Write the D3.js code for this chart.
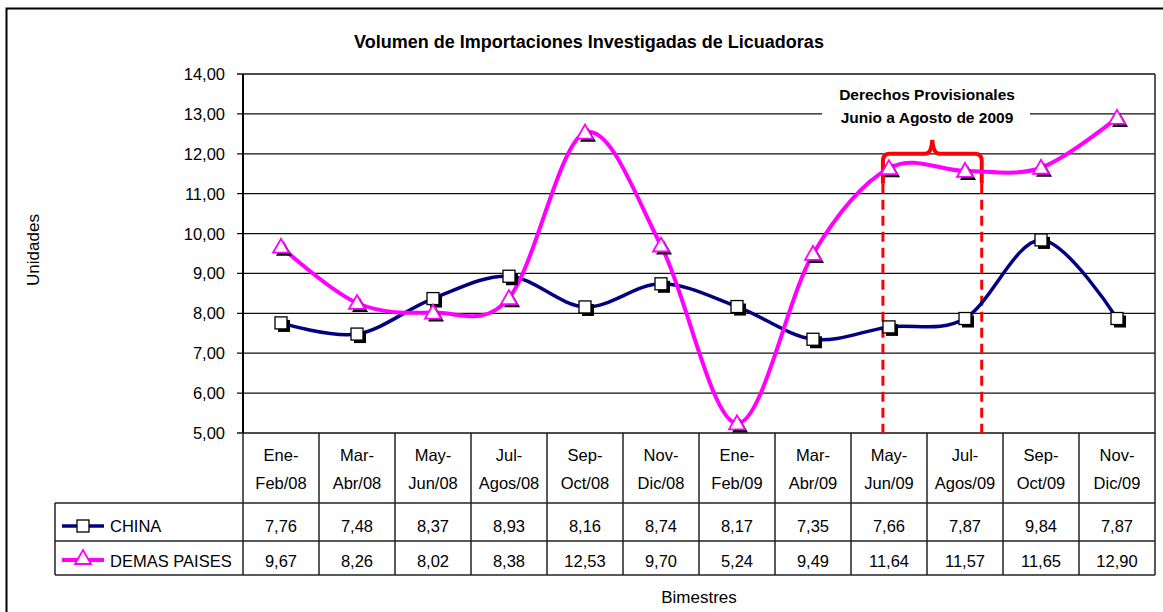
<!DOCTYPE html>
<html>
<head>
<meta charset="utf-8">
<script src="https://cdn.jsdelivr.net/npm/d3@7"></script>
<style>
  body { margin: 0; background: #fff; }
  text { font-family: "Liberation Sans", Arial, sans-serif; fill: #000; }
</style>
</head>
<body>
<svg></svg>
<script>
const w = 1163;
const h = 612;

const categories = ['Ene-Feb/08', 'Mar-Abr/08', 'May-Jun/08', 'Jul-Agos/08', 'Sep-Oct/08', 'Nov-Dic/08',
  'Ene-Feb/09', 'Mar-Abr/09', 'May-Jun/09', 'Jul-Agos/09', 'Sep-Oct/09', 'Nov-Dic/09'];
const china = [7.76, 7.48, 8.37, 8.93, 8.16, 8.74, 8.17, 7.35, 7.66, 7.87, 9.84, 7.87];
const demas = [9.67, 8.26, 8.02, 8.38, 12.53, 9.70, 5.24, 9.49, 11.64, 11.57, 11.65, 12.90];
const yTicks = [5, 6, 7, 8, 9, 10, 11, 12, 13, 14];

const svg = d3.select('svg').attr('width', w).attr('height', h);
const pLeft = 243, pRight = 1155, pTop = 74, pBottom = 433;
const fmt = (v) => v.toFixed(2).replace('.', ',');

const x = d3.scaleBand().domain(categories).range([pLeft, pRight]);
const y = d3.scaleLinear().domain([5, 14]).range([pBottom, pTop]);
const cx = (i) => x(categories[i]) + x.bandwidth() / 2;

// outer frame
svg.append('rect').attr('x', 6.5).attr('y', 8.5).attr('width', 1170).attr('height', 620)
  .attr('fill', 'none').attr('stroke', '#000').attr('stroke-width', 2);

svg.append('text').attr('x', 589).attr('y', 48).attr('text-anchor', 'middle')
  .style('font-size', '18px').style('font-weight', 'bold')
  .text('Volumen de Importaciones Investigadas de Licuadoras');

// gridlines
svg.append('g').selectAll('line').data(yTicks).enter().append('line')
  .attr('x1', pLeft - 6).attr('x2', pRight)
  .attr('y1', (d) => y(d)).attr('y2', (d) => y(d))
  .attr('stroke', '#111').attr('stroke-width', 1.3);
svg.append('line').attr('x1', pLeft).attr('x2', pLeft).attr('y1', pTop).attr('y2', pBottom)
  .attr('stroke', '#000').attr('stroke-width', 2);
svg.append('line').attr('x1', pRight).attr('x2', pRight).attr('y1', pTop).attr('y2', pBottom)
  .attr('stroke', '#222').attr('stroke-width', 1.5);

svg.append('g').selectAll('text').data(yTicks).enter().append('text')
  .attr('x', 225).attr('y', (d) => y(d) + 6).attr('text-anchor', 'end')
  .style('font-size', '16.5px').text(fmt);

svg.append('text').attr('transform', 'translate(39,250) rotate(-90)').attr('text-anchor', 'middle')
  .style('font-size', '17px').text('Unidades');
svg.append('text').attr('x', 699).attr('y', 603).attr('text-anchor', 'middle')
  .style('font-size', '17px').text('Bimestres');

// annotation
const bw = x.bandwidth();
const x1 = x(categories[8]) + 0.42 * bw;
const x2 = x(categories[9]) + 0.72 * bw;
const xm = (x1 + x2) / 2;
svg.append('rect').attr('x', 822).attr('y', 82).attr('width', 208).attr('height', 46).attr('fill', '#fff');
svg.append('text').attr('x', 927).attr('y', 100).attr('text-anchor', 'middle')
  .style('font-size', '15.5px').style('font-weight', 'bold').text('Derechos Provisionales');
svg.append('text').attr('x', 927).attr('y', 123).attr('text-anchor', 'middle')
  .style('font-size', '15.5px').style('font-weight', 'bold').text('Junio a Agosto de 2009');

const yb = y(12), yp = y(12.35), yd = y(11.25);
const r = 7;
svg.append('path')
  .attr('d', `M${x1},${yd} L${x1},${yb + r} Q${x1},${yb} ${x1 + r},${yb} L${xm - 7},${yb}
    Q${xm - 1},${yb} ${xm},${yp} Q${xm + 1},${yb} ${xm + 7},${yb} L${x2 - r},${yb}
    Q${x2},${yb} ${x2},${yb + r} L${x2},${yd}`)
  .attr('fill', 'none').attr('stroke', '#ff0000').attr('stroke-width', 4);
[x1, x2].forEach((xx) => {
  svg.append('line').attr('x1', xx).attr('x2', xx).attr('y1', yd).attr('y2', pBottom)
    .attr('stroke', '#ff0000').attr('stroke-width', 3).attr('stroke-dasharray', '10,6');
});

// lines
const line = d3.line().x((d, i) => cx(i)).y((d) => y(d)).curve(d3.curveCatmullRom.alpha(0));
svg.append('path').datum(china).attr('d', line).attr('fill', 'none')
  .attr('stroke', '#000080').attr('stroke-width', 3.5);
svg.append('path').datum(demas).attr('d', line).attr('fill', 'none')
  .attr('stroke', '#ff00ff').attr('stroke-width', 4);

// markers
const sq = 12;
const squares = svg.append('g').selectAll('g').data(china).enter().append('g')
  .attr('transform', (d, i) => `translate(${cx(i)},${y(d)})`);
squares.append('rect').attr('x', -sq / 2 + 3).attr('y', -sq / 2 + 3).attr('width', sq).attr('height', sq)
  .attr('fill', '#000');
squares.append('rect').attr('x', -sq / 2).attr('y', -sq / 2).attr('width', sq).attr('height', sq)
  .attr('fill', '#fff').attr('stroke', '#000').attr('stroke-width', 1.3);

const tri = 'M0,-8 L8,6 L-8,6 Z';
const tris = svg.append('g').selectAll('g').data(demas).enter().append('g')
  .attr('transform', (d, i) => `translate(${cx(i)},${y(d)})`);
tris.append('path').attr('d', tri).attr('transform', 'translate(3,3)').attr('fill', '#000');
tris.append('path').attr('d', tri).attr('fill', '#fff').attr('stroke', '#ff00ff').attr('stroke-width', 1.8);

// data table
const t0 = pBottom, t1 = 503, t2 = 541, t3 = 575, legLeft = 55;
const tg = svg.append('g').attr('stroke', '#222').attr('stroke-width', 1.5);
categories.forEach((c) => {
  tg.append('line').attr('x1', x(c)).attr('x2', x(c)).attr('y1', t0).attr('y2', t3);
});
tg.append('line').attr('x1', pRight).attr('x2', pRight).attr('y1', t0).attr('y2', t3);
tg.append('line').attr('x1', legLeft).attr('x2', pRight).attr('y1', t1).attr('y2', t1);
tg.append('line').attr('x1', legLeft).attr('x2', pRight).attr('y1', t2).attr('y2', t2);
tg.append('line').attr('x1', legLeft).attr('x2', pRight).attr('y1', t3).attr('y2', t3);
tg.append('line').attr('x1', legLeft).attr('x2', legLeft).attr('y1', t1).attr('y2', t3);

svg.append('g').selectAll('text').data(categories).enter().append('text')
  .attr('text-anchor', 'middle').style('font-size', '16.5px')
  .each(function (d, i) {
    const parts = d.split('-');
    d3.select(this).append('tspan').attr('x', cx(i)).attr('y', 461).text(parts[0] + '-');
    d3.select(this).append('tspan').attr('x', cx(i)).attr('y', 489).text(parts[1]);
  });

[[china, 532], [demas, 567]].forEach(([vals, ty]) => {
  svg.append('g').selectAll('text').data(vals).enter().append('text')
    .attr('x', (d, i) => cx(i)).attr('y', ty).attr('text-anchor', 'middle')
    .style('font-size', '16.5px').text(fmt);
});

// legend keys
svg.append('line').attr('x1', 62).attr('x2', 104).attr('y1', 526).attr('y2', 526)
  .attr('stroke', '#000080').attr('stroke-width', 3.5);
svg.append('rect').attr('x', 77).attr('y', 520).attr('width', 12).attr('height', 12)
  .attr('fill', '#fff').attr('stroke', '#000').attr('stroke-width', 1.3);
svg.append('text').attr('x', 110).attr('y', 532).style('font-size', '16.5px').text('CHINA');

svg.append('line').attr('x1', 62).attr('x2', 104).attr('y1', 560).attr('y2', 560)
  .attr('stroke', '#ff00ff').attr('stroke-width', 4);
svg.append('path').attr('d', 'M83,550 L91,564 L75,564 Z')
  .attr('fill', '#fff').attr('stroke', '#ff00ff').attr('stroke-width', 1.8);
svg.append('text').attr('x', 110).attr('y', 567).style('font-size', '16.5px').text('DEMAS PAISES');
</script>
</body>
</html>
